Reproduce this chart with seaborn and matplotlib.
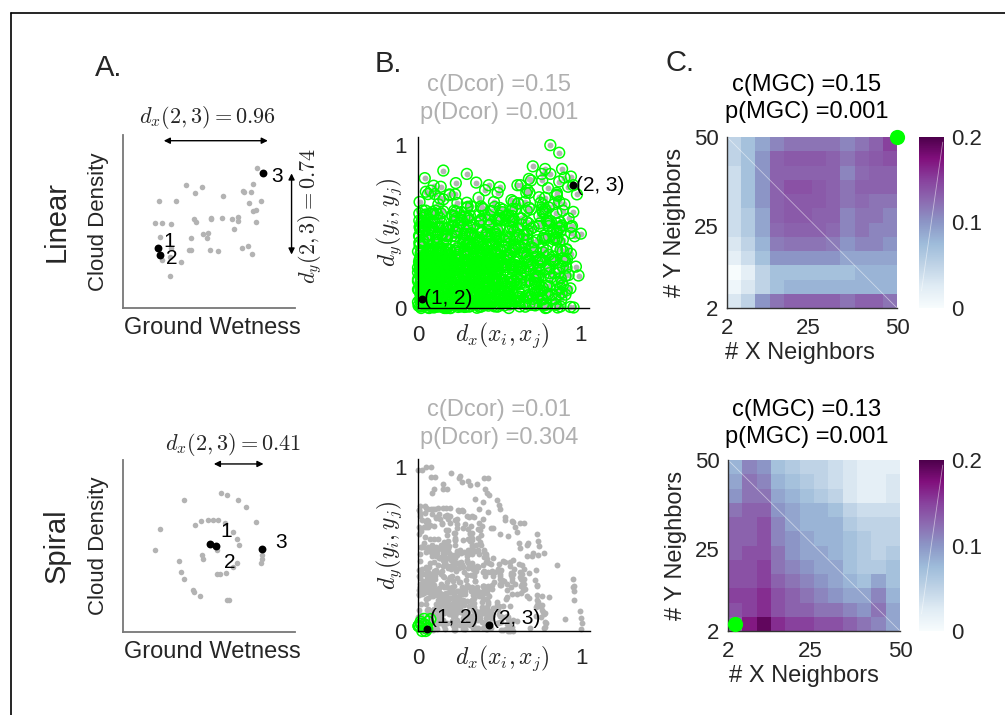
import numpy as np
import pandas as pd
import matplotlib
matplotlib.use("Agg")
import matplotlib.pyplot as plt
import seaborn as sns
from matplotlib.lines import Line2D

# ---------------- data ----------------
# Panel A (linear): ground wetness vs cloud density, axis units 0..1
lin_x = [0.778, 0.368, 0.458, 0.416, 0.696, 0.704, 0.747, 0.758, 0.584, 0.207,
         0.309, 0.735, 0.803, 0.772, 0.758, 0.410, 0.424, 0.513, 0.511, 0.574,
         0.636, 0.667, 0.667, 0.772, 0.188, 0.226, 0.280, 0.648, 0.497, 0.464,
         0.487, 0.217, 0.395, 0.280, 0.385, 0.397, 0.507, 0.555, 0.691, 0.729,
         0.752, 0.271, 0.338, 0.271, 0.226]
lin_y = [0.807, 0.710, 0.697, 0.662, 0.678, 0.672, 0.672, 0.716, 0.647, 0.620,
         0.620, 0.608, 0.618, 0.569, 0.562, 0.515, 0.498, 0.523, 0.514, 0.521,
         0.514, 0.527, 0.504, 0.498, 0.494, 0.492, 0.485, 0.454, 0.436, 0.425,
         0.402, 0.411, 0.407, 0.349, 0.338, 0.338, 0.338, 0.328, 0.344, 0.359,
         0.311, 0.295, 0.266, 0.185, 0.276]
lin_marked_x = [0.203, 0.217, 0.812]   # points 1, 2, 3
lin_marked_y = [0.344, 0.309, 0.778]

# Panel A (spiral)
spi_x = [0.571, 0.603, 0.667, 0.352, 0.714, 0.774, 0.217, 0.497, 0.526, 0.555,
         0.453, 0.416, 0.594, 0.642, 0.665, 0.675, 0.188, 0.549, 0.462, 0.464,
         0.327, 0.662, 0.638, 0.338, 0.356, 0.600, 0.545, 0.565, 0.406, 0.414,
         0.445, 0.603, 0.619, 0.809, 0.807, 0.803]
spi_y = [0.809, 0.799, 0.770, 0.768, 0.725, 0.642, 0.596, 0.654, 0.654, 0.652,
         0.646, 0.625, 0.634, 0.584, 0.538, 0.503, 0.474, 0.474, 0.445, 0.426,
         0.410, 0.402, 0.377, 0.348, 0.309, 0.342, 0.335, 0.335, 0.246, 0.230,
         0.211, 0.188, 0.188, 0.445, 0.426, 0.400]
spi_marked_x = [0.503, 0.538, 0.807]
spi_marked_y = [0.509, 0.501, 0.480]

# optimal (k, l) neighbour scales
lin_scale = (50, 50)
spi_scale = (4, 4)

lin_dx_label = r"$d_x(2,3) = 0.96$"
lin_dy_label = r"$d_y(2,3) = 0.74$"
spi_dx_label = r"$d_x(2,3) = 0.41$"

dcor_stats = [("0.15", "0.001"), ("0.01", "0.304")]
mgc_stats = [("0.15", "0.001"), ("0.13", "0.001")]

# MGC local correlation maps, rows Y=50 (top) .. Y=2, cols X=2 .. 50
mgc_lin = [
    [0.05, 0.07, 0.09, 0.11, 0.12, 0.12, 0.12, 0.12, 0.11, 0.12, 0.13, 0.15],
    [0.05, 0.07, 0.10, 0.13, 0.135, 0.135, 0.135, 0.13, 0.12, 0.13, 0.135, 0.14],
    [0.04, 0.07, 0.10, 0.13, 0.13, 0.13, 0.13, 0.13, 0.11, 0.125, 0.13, 0.13],
    [0.04, 0.07, 0.10, 0.13, 0.14, 0.14, 0.135, 0.13, 0.12, 0.13, 0.13, 0.13],
    [0.04, 0.07, 0.10, 0.13, 0.135, 0.135, 0.135, 0.13, 0.12, 0.125, 0.12, 0.12],
    [0.04, 0.06, 0.09, 0.13, 0.135, 0.135, 0.13, 0.13, 0.11, 0.12, 0.12, 0.11],
    [0.04, 0.06, 0.09, 0.125, 0.13, 0.13, 0.13, 0.125, 0.11, 0.12, 0.11, 0.11],
    [0.03, 0.05, 0.08, 0.115, 0.12, 0.12, 0.12, 0.115, 0.10, 0.11, 0.11, 0.10],
    [0.02, 0.04, 0.07, 0.10, 0.10, 0.10, 0.10, 0.10, 0.09, 0.09, 0.09, 0.09],
    [0.00, 0.02, 0.05, 0.07, 0.07, 0.07, 0.07, 0.07, 0.07, 0.08, 0.08, 0.08],
    [0.01, 0.03, 0.05, 0.07, 0.08, 0.08, 0.08, 0.08, 0.08, 0.08, 0.08, 0.08],
    [0.03, 0.05, 0.10, 0.12, 0.13, 0.13, 0.13, 0.13, 0.12, 0.13, 0.13, 0.12],
]
mgc_spi = [
    [0.08, 0.11, 0.10, 0.07, 0.06, 0.05, 0.05, 0.04, 0.03, 0.02, 0.02, 0.02],
    [0.09, 0.12, 0.11, 0.08, 0.07, 0.06, 0.05, 0.04, 0.03, 0.02, 0.02, 0.03],
    [0.10, 0.12, 0.12, 0.09, 0.08, 0.07, 0.06, 0.05, 0.03, 0.02, 0.02, 0.03],
    [0.12, 0.13, 0.13, 0.10, 0.09, 0.08, 0.08, 0.07, 0.05, 0.04, 0.04, 0.04],
    [0.13, 0.13, 0.14, 0.11, 0.09, 0.08, 0.08, 0.08, 0.06, 0.05, 0.05, 0.05],
    [0.13, 0.13, 0.14, 0.11, 0.10, 0.09, 0.08, 0.08, 0.07, 0.06, 0.05, 0.05],
    [0.13, 0.14, 0.14, 0.12, 0.10, 0.09, 0.09, 0.08, 0.07, 0.06, 0.05, 0.06],
    [0.14, 0.14, 0.15, 0.12, 0.11, 0.10, 0.09, 0.09, 0.07, 0.06, 0.06, 0.07],
    [0.14, 0.14, 0.15, 0.13, 0.12, 0.11, 0.10, 0.09, 0.08, 0.07, 0.09, 0.07],
    [0.15, 0.15, 0.16, 0.14, 0.13, 0.12, 0.11, 0.10, 0.09, 0.09, 0.11, 0.08],
    [0.14, 0.15, 0.16, 0.14, 0.13, 0.13, 0.12, 0.12, 0.11, 0.10, 0.12, 0.09],
    [0.13, 0.17, 0.19, 0.16, 0.15, 0.15, 0.14, 0.14, 0.13, 0.12, 0.11, 0.09],
]
neighbor_ticks = [2, 25, 50]

# ---------------- style ----------------
sns.set_style("white")
plt.rcParams["font.family"] = ["Liberation Sans", "DejaVu Sans"]
plt.rcParams["mathtext.fontset"] = "cm"
TXT = "#262626"
GRAY = "#b3b3b3"
GREEN = "#00ff00"

W, H = 1005, 715
fig = plt.figure(figsize=(W / 100, H / 100), dpi=100)


def px_axes(x0, y0, x1, y1):
    return fig.add_axes([x0 / W, 1 - y1 / H, (x1 - x0) / W, (y1 - y0) / H])


def ftext(x, y, s, **kw):
    kw.setdefault("color", TXT)
    kw.setdefault("ha", "center")
    kw.setdefault("va", "center")
    fig.text(x / W, 1 - y / H, s, **kw)


def pair_table(x, y, scale):
    x = np.asarray(x)
    y = np.asarray(y)
    dx = np.abs(x[:, None] - x[None, :])
    dy = np.abs(y[:, None] - y[None, :])
    dx, dy = dx / dx.max(), dy / dy.max()
    rx = dx.argsort(axis=1).argsort(axis=1)
    ry = dy.argsort(axis=1).argsort(axis=1)
    local = (rx < scale[0]) & (ry < scale[1])
    iu, ju = np.triu_indices(len(x), k=1)
    return pd.DataFrame({"dx": dx[iu, ju], "dy": dy[iu, ju],
                         "local": local[iu, ju] | local[ju, iu]}), dx, dy


# frame
fig.add_artist(Line2D([11 / W, 1], [1 - 13 / H, 1 - 13 / H], color="k", lw=1.2))
fig.add_artist(Line2D([11 / W, 11 / W], [1 - 13 / H, 0], color="k", lw=1.2))

ftext(109, 68, "A.", fontsize=21)
ftext(388, 64, "B.", fontsize=21)
ftext(680, 63, "C.", fontsize=21)

rows = [
    dict(name="Linear", x=lin_x, y=lin_y, mx=lin_marked_x, my=lin_marked_y,
         scale=lin_scale, mgc=mgc_lin, a=(123, 135, 295, 308), b=(418, 137, 589, 308),
         c=(727, 137, 897, 308), cb=(919, 137, 944, 308), top=85, xlab=800),
    dict(name="Spiral", x=spi_x, y=spi_y, mx=spi_marked_x, my=spi_marked_y,
         scale=spi_scale, mgc=mgc_spi, a=(123, 460, 295, 632), b=(418, 459, 590, 631),
         c=(728, 460, 900, 631), cb=(919, 460, 944, 631), top=410, xlab=804),
]

for r, row in enumerate(rows):
    # ---------- A: raw data ----------
    ax = px_axes(*row["a"])
    sns.scatterplot(x=row["x"], y=row["y"], color=GRAY, s=16, linewidth=0, ax=ax)
    sns.scatterplot(x=row["mx"], y=row["my"], color="k", s=32, linewidth=0, ax=ax)
    ax.set_xlim(0, 1)
    ax.set_ylim(0, 1)
    ax.set_xticks([])
    ax.set_yticks([])
    sns.despine(ax=ax)
    for s in ["left", "bottom"]:
        ax.spines[s].set_color("#777777")
        ax.spines[s].set_linewidth(1.3)
    ax.text(-0.14, 0.5, "Cloud Density", rotation=90, transform=ax.transAxes,
            ha="center", va="center", fontsize=16, color=TXT)
    ax.text(0.52, -0.115, "Ground Wetness", transform=ax.transAxes,
            ha="center", va="center", fontsize=17, color=TXT)
    ax.text(-0.385, 0.5, row["name"], rotation=90, transform=ax.transAxes,
            ha="center", va="center", fontsize=21, color=TXT)
    x1, x2, x3 = row["mx"]
    y1, y2, y3 = row["my"]
    arrow = dict(arrowstyle="<|-|>", color="k", lw=1.0, mutation_scale=9,
                 shrinkA=0, shrinkB=0)
    if r == 0:
        ax.annotate("", xy=(x3 + 0.03, 0.967), xytext=(x2 + 0.02, 0.967),
                    arrowprops=arrow, annotation_clip=False)
        ax.annotate("", xy=(0.98, y3), xytext=(0.98, y2), arrowprops=arrow,
                    annotation_clip=False)
        ax.text(0.49, 1.1, lin_dx_label, transform=ax.transAxes, ha="center",
                va="center", fontsize=16, color=TXT)
        ax.text(1.09, 0.53, lin_dy_label, transform=ax.transAxes, rotation=90,
                ha="center", va="center", fontsize=16, color=TXT)
        offs = [(4, 5), (4, -3), (6, -2)]
    else:
        ax.annotate("", xy=(x3 + 0.01, 0.977), xytext=(x2 - 0.01, 0.977),
                    arrowprops=arrow, annotation_clip=False)
        ax.text(0.64, 1.09, spi_dx_label, transform=ax.transAxes, ha="center",
                va="center", fontsize=16, color=TXT)
        offs = [(8, 9), (6, -12), (10, 5)]
    for k, (px, py) in enumerate(zip(row["mx"], row["my"])):
        ax.annotate(str(k + 1), (px, py), xytext=offs[k], textcoords="offset points",
                    ha="left", va="center", fontsize=15, color="k")

    # ---------- B: pairwise distances ----------
    allx = list(row["x"]) + list(row["mx"])
    ally = list(row["y"]) + list(row["my"])
    pairs, dxm, dym = pair_table(allx, ally, row["scale"])
    n = len(row["x"])
    bx = px_axes(*row["b"])
    sns.scatterplot(data=pairs, x="dx", y="dy", color=GRAY, s=18, linewidth=0,
                    ax=bx, clip_on=False)
    loc = pairs[pairs["local"]]
    bx.scatter(loc["dx"], loc["dy"], s=60, facecolors="none", edgecolors=GREEN,
               linewidths=1.1, clip_on=False)
    lab_off = [(2, 0), (2, 0)] if r == 0 else [(2, 8), (2, 5)]
    for (i, j), lab, off in [((n, n + 1), "(1, 2)", lab_off[0]),
                             ((n + 1, n + 2), "(2, 3)", lab_off[1])]:
        bx.scatter([dxm[i, j]], [dym[i, j]], s=22, color="k", clip_on=False, zorder=5)
        bx.annotate(lab, (dxm[i, j], dym[i, j]), xytext=off, textcoords="offset points",
                    ha="left", va="center", fontsize=15, color="k")
    bx.set_xlim(0, 1.05)
    bx.set_ylim(0, 1.05)
    bx.set_xticks([0, 1])
    bx.set_yticks([0, 1])
    bx.set_xlabel("")
    bx.set_ylabel("")
    bx.tick_params(direction="in", length=4, width=1, labelsize=16,
                   labelcolor=TXT, color="k")
    bx.tick_params(axis="x", pad=12)
    bx.tick_params(axis="y", pad=8)
    sns.despine(ax=bx)
    for s in ["left", "bottom"]:
        bx.spines[s].set_color("k")
        bx.spines[s].set_linewidth(1.0)
    bx.text(0.49, -0.16, r"$d_x(x_i, x_j)$", transform=bx.transAxes, ha="center",
            va="center", fontsize=17, color=TXT)
    bx.text(-0.17, 0.5, r"$d_y(y_i, y_j)$", transform=bx.transAxes, rotation=90,
            ha="center", va="center", fontsize=17, color=TXT)
    c_val, p_val = dcor_stats[r]
    ftext(499, row["top"], f"c(Dcor) ={c_val}", fontsize=17, color="#b0b0b0")
    ftext(499, row["top"] + 28, f"p(Dcor) ={p_val}", fontsize=17, color="#b0b0b0")

    # ---------- C: MGC map ----------
    cx = px_axes(*row["c"])
    cax = px_axes(*row["cb"])
    mat = pd.DataFrame(row["mgc"])
    sns.heatmap(mat, ax=cx, cmap="BuPu", vmin=0, vmax=0.2, cbar_ax=cax,
                xticklabels=False, yticklabels=False)
    nc = mat.shape[1]
    to_pos = lambda k: (k - 2) / 48 * nc
    cx.set_xticks([to_pos(k) for k in neighbor_ticks])
    cx.set_xticklabels([str(k) for k in neighbor_ticks])
    cx.set_yticks([nc - to_pos(k) for k in neighbor_ticks])
    cx.set_yticklabels([str(k) for k in neighbor_ticks], rotation=0)
    cx.tick_params(length=0, labelsize=16, labelcolor=TXT)
    cx.tick_params(axis="x", pad=7)
    cx.tick_params(axis="y", pad=6)
    for s in ["left", "bottom"]:
        cx.spines[s].set_visible(True)
        cx.spines[s].set_color("#333333")
        cx.spines[s].set_linewidth(1.0)
    cx.plot([0, 1], [1, 0], transform=cx.transAxes, color="white", lw=0.6, alpha=0.5)
    kx, ky = row["scale"]
    cx.scatter([to_pos(kx)], [nc - to_pos(ky)], s=120, color=GREEN, clip_on=False,
               zorder=6, linewidth=0)
    cx.set_xlabel("# X Neighbors", fontsize=17, color=TXT)
    cx.set_ylabel("# Y Neighbors", fontsize=17, color=TXT, labelpad=6)
    x0, _, x1, _ = row["c"]
    cx.xaxis.set_label_coords((row["xlab"] - x0) / (x1 - x0), -0.2)
    cbar = cx.collections[0].colorbar
    cbar.outline.set_visible(False)
    cbar.set_ticks([0, 0.1, 0.2])
    cbar.set_ticklabels(["0", "0.1", "0.2"])
    cax.tick_params(length=0, labelsize=16, labelcolor=TXT, pad=5)
    cax.plot([0.1, 0.95], [0.1, 0.97], transform=cax.transAxes, color="white",
             lw=0.6, alpha=0.5)
    c_val, p_val = mgc_stats[r]
    ftext(807, row["top"], f"c(MGC) ={c_val}", fontsize=17, color="k")
    ftext(807, row["top"] + 27, f"p(MGC) ={p_val}", fontsize=17, color="k")

fig.savefig("out.png", dpi=100)
